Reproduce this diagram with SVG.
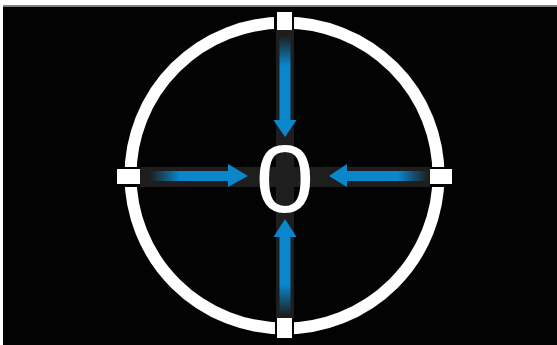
<svg xmlns="http://www.w3.org/2000/svg" width="557" height="345" viewBox="0 0 557 345">
  <style>
    .sq { fill: #ffffff; }
    .gap { fill: #030303; }
    .bar { fill: #1e1e1e; }
    .ring { fill: none; stroke: #ffffff; stroke-width: 12; }
    .label { font-family: "Liberation Sans", Arial, sans-serif; font-size: 96px; fill: #ffffff; text-anchor: middle; }
  </style>
  <defs>
    <linearGradient id="gL" gradientUnits="userSpaceOnUse" x1="150" y1="0" x2="180" y2="0">
      <stop offset="0" stop-color="#0a86cc" stop-opacity="0"/>
      <stop offset="1" stop-color="#0a86cc" stop-opacity="1"/>
    </linearGradient>
    <linearGradient id="gR" gradientUnits="userSpaceOnUse" x1="428" y1="0" x2="398" y2="0">
      <stop offset="0" stop-color="#0a86cc" stop-opacity="0"/>
      <stop offset="1" stop-color="#0a86cc" stop-opacity="1"/>
    </linearGradient>
    <linearGradient id="gT" gradientUnits="userSpaceOnUse" x1="0" y1="36" x2="0" y2="66">
      <stop offset="0" stop-color="#0a86cc" stop-opacity="0"/>
      <stop offset="1" stop-color="#0a86cc" stop-opacity="1"/>
    </linearGradient>
    <linearGradient id="gB" gradientUnits="userSpaceOnUse" x1="0" y1="315" x2="0" y2="285">
      <stop offset="0" stop-color="#0a86cc" stop-opacity="0"/>
      <stop offset="1" stop-color="#0a86cc" stop-opacity="1"/>
    </linearGradient>
  </defs>
  <rect x="0" y="0" width="557" height="345" fill="#ffffff"/>
  <rect x="3" y="5" width="554" height="2" fill="#808080"/>
  <rect x="3" y="7" width="554" height="338" fill="#030303"/>

  <g id="ring">
    <ellipse class="ring" cx="284.5" cy="175.5" rx="154" ry="153"/>
    <rect class="gap" x="274" y="8" width="20" height="26"/>
    <rect class="gap" x="275" y="316" width="19" height="24"/>
    <rect class="gap" x="112" y="167" width="30" height="20"/>
    <rect class="gap" x="426" y="167" width="30" height="20"/>
  </g>

  <g id="bars">
    <rect class="bar" x="140" y="167" width="290" height="20"/>
    <rect class="bar" x="276" y="30" width="18" height="288"/>
  </g>

  <g id="connectors">
    <g id="arrow-left" fill="url(#gL)">
      <rect x="150" y="171" width="79" height="10"/>
      <polygon points="228,164 248,176 228,187"/>
    </g>
    <g id="arrow-right" fill="url(#gR)">
      <rect x="346" y="171" width="82" height="10"/>
      <polygon points="347,164 329,176 347,187"/>
    </g>
    <g id="arrow-top" fill="url(#gT)">
      <rect x="279.5" y="36" width="11" height="85"/>
      <polygon points="273.5,120 296.5,120 285,137"/>
    </g>
    <g id="arrow-bottom" fill="url(#gB)">
      <rect x="279.5" y="236" width="11" height="79"/>
      <polygon points="273.5,237 296.5,237 285,219"/>
    </g>
  </g>

  <g id="node-top"><rect class="sq" x="277" y="12" width="15" height="18"/></g>
  <g id="node-bottom"><rect class="sq" x="277" y="318" width="15" height="20"/></g>
  <g id="node-left"><rect class="sq" x="117" y="169" width="23" height="15"/></g>
  <g id="node-right"><rect class="sq" x="430" y="169" width="22" height="15"/></g>

  <g id="node-center">
    <text class="label" x="285" y="212" transform="translate(285 0) scale(1.1 1) translate(-285 0)">0</text>
  </g>
</svg>
